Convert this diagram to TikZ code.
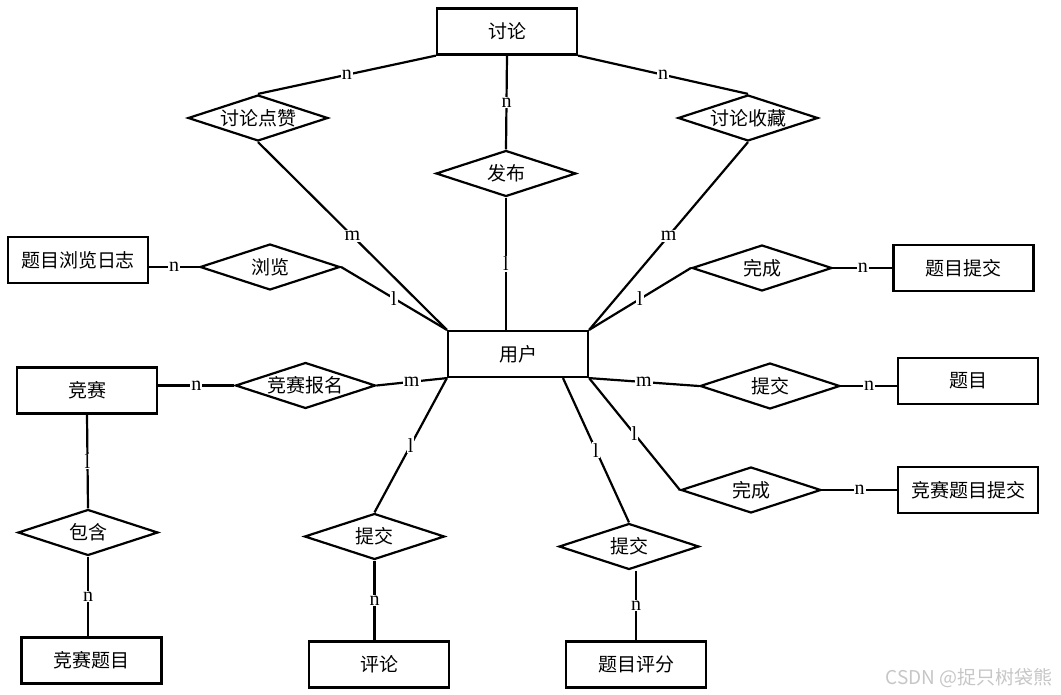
\documentclass[tikz,border=0pt]{standalone}
\usepackage{fontspec}
\setmainfont{Liberation Serif}
\newfontfamily\cjk{Noto Sans CJK SC}
\usetikzlibrary{positioning}
\usetikzlibrary{shapes.geometric}

\begin{document}
\begin{tikzpicture}[x = 1pt, y = -1pt, line width = 2.2pt,
	entity/.style = {draw, minimum width = 140pt, minimum height = 46pt, inner sep = 0pt, font = \cjk\fontsize{19}{22}\selectfont},
	relation/.style = {draw, diamond, aspect = 3, minimum width = 140pt, minimum height = 46pt, inner sep = 0pt, font = \cjk\fontsize{19}{22}\selectfont},
	card/.style = {fill = white, inner sep = 1pt, font = \fontsize{20}{22}\selectfont}]
	\useasboundingbox (0, 0) rectangle (1061, 695);

	% entities
	\node [entity] (discuss) at (507, 31.5) {讨论};
	\node [entity] (user) at (518, 354) {用户};
	\node [entity] (viewlog) at (78, 260) {题目浏览日志};
	\node [entity] (probsubmit) at (963.5, 268) {题目提交};
	\node [entity] (contest) at (87, 390.5) {竞赛};
	\node [entity] (problem) at (968, 381) {题目};
	\node [entity] (contestsubmit) at (968, 490) {竞赛题目提交};
	\node [entity] (contestprob) at (91.5, 660.5) {竞赛题目};
	\node [entity] (comment) at (379, 664.5) {评论};
	\node [entity] (rating) at (636, 664.5) {题目评分};

	% relations
	\node [relation] (like) at (258, 118) {讨论点赞};
	\node [relation] (publish) at (506, 173.5) {发布};
	\node [relation] (collect) at (748, 118) {讨论收藏};
	\node [relation] (browse) at (270, 267) {浏览};
	\node [relation] (finish) at (762, 268) {完成};
	\node [relation] (signup) at (305.5, 385.5) {竞赛报名};
	\node [relation] (contain) at (88, 532.5) {包含};
	\node [relation] (submitc) at (374.5, 536.5) {提交};
	\node [relation] (submitp) at (770, 386) {提交};
	\node [relation] (finishc) at (751, 490) {完成};
	\node [relation] (submitr) at (629, 546.5) {提交};

	\coordinate (userfoot) at ([xshift = 45pt] user.south);

	% connectors
	\draw (discuss.south west) -- node [card] {n} (like.north);
	\draw (discuss.south) -- node [card] {n} (publish.north);
	\draw (discuss.south east) -- node [card] {n} (collect.north);
	\draw (like.south) -- node [card] {m} (user.north west);
	\draw (publish.south) -- node [card] {l} (publish.south |- user.north);
	\draw (collect.south) -- node [card] {m} (user.north east);
	\draw (browse.east) -- node [card] {l} (user.north west);
	\draw (browse.west) -- node [card] {n} (browse.west -| viewlog.east);
	\draw (finish.west) -- node [card] {l} (user.north east);
	\draw (finish.east) -- node [card] {n} (probsubmit.west);
	\draw (signup.east) -- node [card] {m} (user.south west);
	\draw (signup.west) -- node [card] {n} (signup.west -| contest.east);
	\draw (contest.south) -- node [card] {l} (contain.north);
	\draw (contain.south) -- node [card] {n} (contain.south |- contestprob.north);
	\draw (user.south west) -- node [card] {l} (submitc.north);
	\draw (submitc.south) -- node [card] {n} (submitc.south |- comment.north);
	\draw (user.south east) -- node [card] {m} (submitp.west);
	\draw (submitp.east) -- node [card] {n} (submitp.east -| problem.west);
	\draw (user.south east) -- node [card] {l} (finishc.west);
	\draw (finishc.east) -- node [card] {n} (contestsubmit.west);
	\draw (userfoot) -- node [card] {l} (submitr.north);
	\draw (rating.north) -- node [card] {n} (rating.north |- submitr.south);

	\node [anchor = east, text = gray!45, font = \cjk\fontsize{19}{22}\selectfont] (mark) at (1057, 678) {CSDN @捉只树袋熊};
\end{tikzpicture}
\end{document}
